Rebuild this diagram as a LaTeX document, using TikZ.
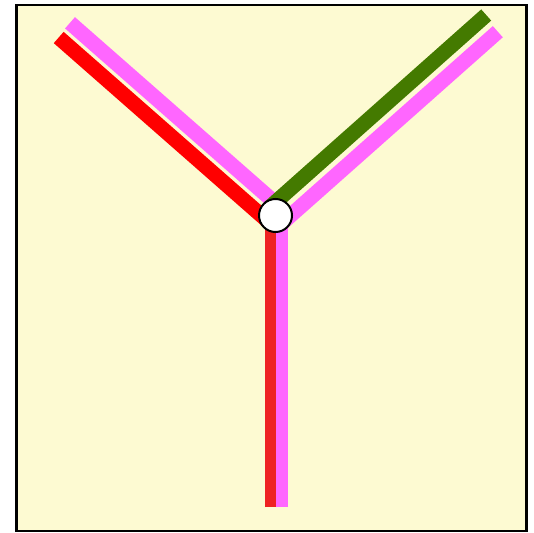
\documentclass[tikz,border=0pt]{standalone}
\usepackage{tikz}
\definecolor{myred}{RGB}{255,0,0}
\definecolor{myvred}{RGB}{238,34,34}
\definecolor{mypink}{RGB}{255,102,255}
\definecolor{mygreen}{RGB}{68,122,0}
\definecolor{mybg}{RGB}{253,250,210}
\tikzset{
  frame/.style={draw=black, fill=mybg, line width=2.4pt},
  redline/.style={line width=15pt, color=myred},
  pinkline/.style={line width=15pt, color=mypink},
  greenline/.style={line width=15pt, color=mygreen},
  vredline/.style={line width=11pt, color=myvred},
  vpinkline/.style={line width=12pt, color=mypink},
  station/.style={circle, draw=black, fill=white,
    minimum size=33pt, inner sep=0pt, line width=2pt}
}
\begin{document}
\begin{tikzpicture}[x=1pt, y=-1pt]
  \useasboundingbox (0,0) rectangle (534,532);
  \draw[frame] (16.5,5) rectangle (526.5,530.8);
  \coordinate (hub) at (275.5,215.5);
  % arm ends
  \coordinate (nwred)   at (58.7,37.5);
  \coordinate (nwpink)  at (70,22.8);
  \coordinate (negreen) at (486.2,15);
  \coordinate (nepink)  at (497.8,31.7);
  \coordinate (sred)    at (270,507);
  \coordinate (spink)   at (282,507);
  % joins at the station
  \coordinate (jnwred)   at (269.4,222.5);
  \coordinate (jnwpink)  at (281.6,208.5);
  \coordinate (jnegreen) at (268.9,208);
  \coordinate (jnepink)  at (282.1,223);
  \coordinate (jsred)    at (270,218);
  \coordinate (jspink)   at (282,218);

  \draw[vredline]  (sred)  -- (jsred);
  \draw[vpinkline] (spink) -- (jspink);
  \draw[redline]   (nwred)  -- (jnwred);
  \draw[pinkline]  (nwpink) -- (jnwpink);
  \draw[pinkline]  (nepink) -- (jnepink);
  \draw[greenline] (negreen) -- (jnegreen);
  \node[station] (stn) at (hub) {};
\end{tikzpicture}
\end{document}
